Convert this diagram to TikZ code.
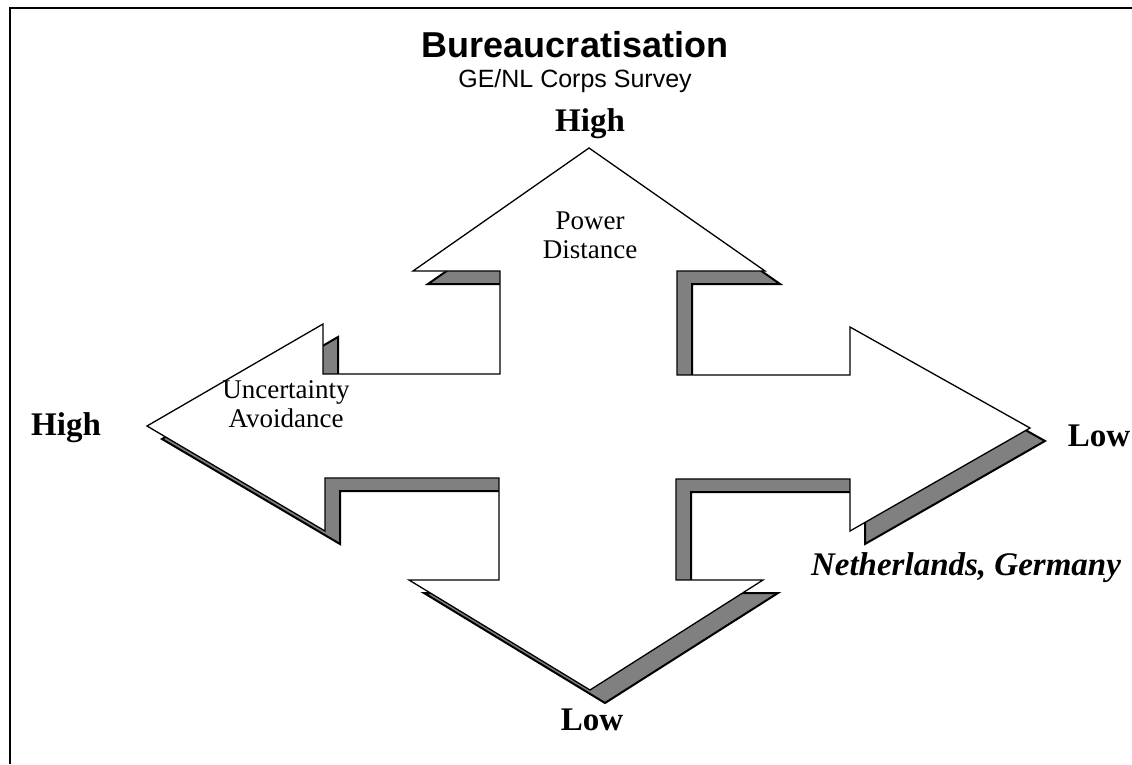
\documentclass[tikz,border=0pt]{standalone}
\usepackage{fontspec}
\setmainfont{Liberation Serif}
\newfontfamily\arialfont{Liberation Sans}

% outline of the four-way arrow, in pixel-like units
\newcommand{\crossarrow}{%
  (589,148) -- (765,271) -- (677,271) -- (677,375) -- (850,375) -- (850,327)
  -- (1030,428) -- (850,531) -- (850,479) -- (676,479) -- (676,580) -- (763,580)
  -- (590,690) -- (409,580) -- (499,580) -- (499,478) -- (325,478) -- (325,531)
  -- (147,426) -- (323,324) -- (323,374) -- (500,374) -- (500,271) -- (413,271)
  -- cycle}

\tikzset{
  arrowbody/.style={draw=black, line width=1.3pt, fill=white, line join=miter},
  arrowshade/.style={draw=black, line width=2pt, fill=gray!75!black!80, line join=miter},
  axislabel/.style={font=\fontsize{33}{36}\selectfont\bfseries},
  dimlabel/.style={font=\fontsize{27}{29}\selectfont, align=center}
}

\begin{document}
\begin{tikzpicture}[x=1pt, y=-1pt]
\useasboundingbox (0,0) rectangle (1132,764);

% frame
\draw[line width=1.2pt] (1132,8) -- (10,8) -- (10,764);

% heading
\node[font=\arialfont\fontsize{36}{40}\selectfont\bfseries] (title) at (575,45) {Bureaucratisation};
\node[font=\arialfont\fontsize{25}{28}\selectfont] (subtitle) at (575,81) {GE/NL Corps Survey};

% shadow first, then the arrow on top
\draw[arrowshade, shift={(15,13)}] \crossarrow;
\draw[arrowbody] \crossarrow;

% dimension names
\node[dimlabel] (pd) at (590,235) {Power\\Distance};
\node[dimlabel] (ua) at (286,404) {Uncertainty\\Avoidance};

% ends of the axes
\node[axislabel] (pdhigh) at (590,124) {High};
\node[axislabel] (pdlow) at (592,720) {Low};
\node[axislabel] (uahigh) at (66,428) {High};
\node[axislabel] (ualow) at (1099,436) {Low};

% countries
\node[axislabel, font=\fontsize{33}{36}\selectfont\bfseries\itshape] (countries) at (966,568) {Netherlands, Germany};
\end{tikzpicture}
\end{document}
